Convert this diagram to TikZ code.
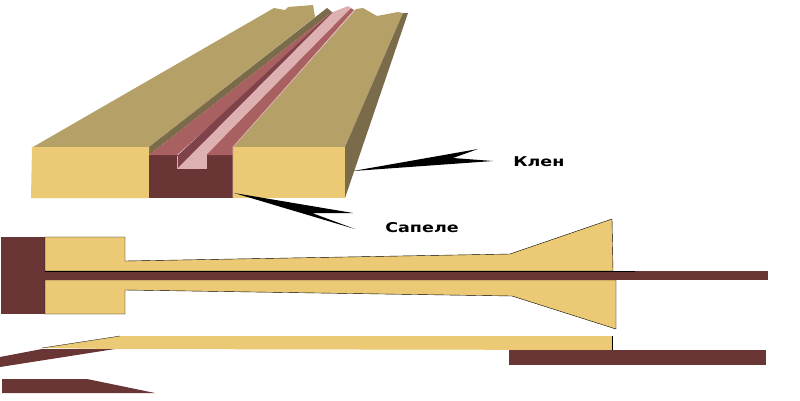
\documentclass[tikz,border=0pt]{standalone}
\usepackage{fontspec}
\setmainfont{DejaVu Sans}
\definecolor{maple}{HTML}{EBC975}
\definecolor{mapletop}{HTML}{B5A068}
\definecolor{mapleside}{HTML}{7A6C4A}
\definecolor{sapele}{HTML}{6A3535}
\definecolor{sapeletop}{HTML}{A86060}
\definecolor{sapelewall}{HTML}{80424A}
\definecolor{groove}{HTML}{DDB0B2}
\tikzset{
  lbl/.style={font=\bfseries\fontsize{13.5}{15}\selectfont,inner sep=0pt,xscale=1.3,text=black},
  pointer/.style={fill=black}
}
\begin{document}
\begin{tikzpicture}[x=1pt,y=-1pt]
\useasboundingbox (0,0) rectangle (800,400);
\fill[white] (0,0) rectangle (800,400);
% --- 3D block: top surfaces
\fill[mapletop] (33,147) -- (274,8) -- (285,10) -- (288,7) -- (313,5) -- (315,17) -- (149,147) -- cycle;
\fill[mapletop] (233,147) -- (356,9) -- (363,8) -- (377,16) -- (398,12) -- (403,13) -- (345,147) -- cycle;
\fill[mapleside] (345,147) -- (403,13) -- (408,13) -- (345,198) -- cycle;
\fill[mapleside] (149,147) -- (327,8) -- (332,12) -- (149,155) -- cycle;
% front faces
\fill[maple] (32,147) -- (149,147) -- (149,198) -- (31,198) -- cycle;
\fill[maple] (233,147) -- (345,147) -- (345,198) -- (233,198) -- cycle;
\fill[sapele] (149,155) -- (233,155) -- (233,198) -- (149,198) -- cycle;
% groove
\fill[sapeletop] (149,155) -- (332,12) -- (336,13) -- (177,155) -- cycle;
\fill[sapelewall] (177,156) -- (331,13) -- (337,12) -- (178,168) -- cycle;
\fill[sapeletop] (206,155) -- (349,7) -- (354,10) -- (233,147) -- (233,155) -- cycle;
\fill[groove] (178,168) -- (333,12) -- (348,6) -- (351,8) -- (206,155) -- (206,168) -- cycle;
\draw[groove,line width=0.7pt] (233,198) -- (233,147) -- (355,10);
\draw[groove,line width=0.6pt] (177,156) -- (177,168) -- (206,168) -- (206,155);
% pointers
\fill[pointer] (353,171) -- (478,149) -- (453,158) -- (493,161) -- cycle;
\fill[pointer] (234,193) -- (353,213) -- (312,213) -- (355,229) -- cycle;
\node[lbl,anchor=west] (klen) at (513,161.5) {Клен};
\node[lbl,anchor=west] (sapelelabel) at (385,227.5) {Сапеле};
% --- Lower section: profile view
\fill[sapele] (1,237) -- (45,237) -- (45,314) -- (1,314) -- cycle;
\filldraw[fill=maple,draw=black,line width=0.4pt] (45,237) -- (125,237) -- (125,261) -- (510,254) -- (612,219) -- (613,271) -- (45,271) -- cycle;
\filldraw[fill=maple,draw=black,line width=0.4pt] (45,280) -- (616,280) -- (616,329) -- (512,296) -- (125,290) -- (125,314) -- (45,314) -- cycle;
\fill[sapele] (45,271) -- (768,271) -- (768,280) -- (45,280) -- cycle;
\draw[black,line width=0.6pt] (45,271) -- (635,271);
% --- Lower section: neck strip
\fill[maple] (42,348) -- (120,336) -- (612,336) -- (612,350) -- (115,349) -- cycle;
\draw[black,line width=0.3pt] (42,348) -- (120,336);
\fill[sapele] (0,357) -- (42,349) -- (115,349) -- (0,367) -- cycle;
\fill[sapele] (509,350) -- (766,350) -- (766,365) -- (509,365) -- cycle;
\draw[black,line width=0.5pt] (612,336) -- (612,350);
\fill[sapele] (2,379) -- (87,379) -- (155,393) -- (2,393) -- cycle;
\end{tikzpicture}
\end{document}
